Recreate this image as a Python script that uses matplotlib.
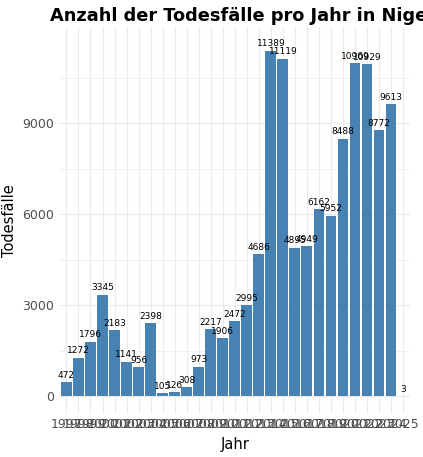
import numpy as np
import matplotlib.pyplot as plt

years = list(range(1997, 2026))
deaths = [472, 1272, 1796, 3345, 2183, 1141, 956, 2398, 105, 126, 308, 973,
          2217, 1906, 2472, 2995, 4686, 11389, 11119, 4895, 4949, 6162, 5952,
          8488, 10969, 10929, 8772, 9613, 3]

fig = plt.figure(figsize=(4.23, 4.57), dpi=100)
ax = fig.add_axes([0.14, 0.095, 0.83, 0.845])

ax.bar(years, deaths, width=0.9, color='#4682B4', zorder=2)
for x, v in zip(years, deaths):
    ax.text(x, v + 80, str(v), ha='center', va='bottom', fontsize=6.5, zorder=3)

ax.set_xlim(1996.4, 2025.6)
ax.set_ylim(-570, 12150)
ax.set_yticks([0, 3000, 6000, 9000])
ax.set_yticks([1500, 4500, 7500, 10500], minor=True)
ax.set_xticks(years)
ax.set_xticklabels([str(y) for y in years])
ax.tick_params(axis='both', length=0, labelsize=9, colors='#4d4d4d')
ax.tick_params(axis='y', which='minor', length=0)
ax.grid(True, which='major', color='#ebebeb', lw=0.8, zorder=0)
ax.grid(True, which='minor', axis='y', color='#ebebeb', lw=0.5, zorder=0)
for s in ax.spines.values():
    s.set_visible(False)

ax.set_xlabel('Jahr', fontsize=10.5)
ax.set_ylabel('Todesfälle', fontsize=10.5)
fig.text(0.118, 0.965, 'Anzahl der Todesfälle pro Jahr in Nigeria',
         fontsize=12.8, fontweight='bold', va='center')

fig.savefig('out.png', dpi=100)
